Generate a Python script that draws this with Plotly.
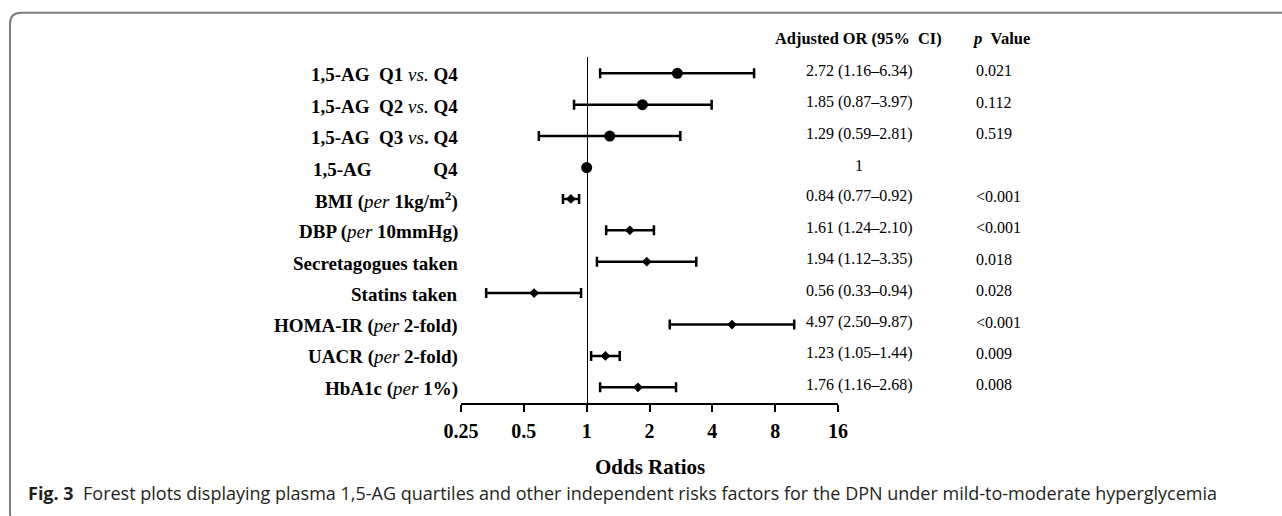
import math
import plotly.graph_objects as go

# ---------------- data ----------------
row_labels = [
    "<b>1,5-AG\u00a0\u00a0Q1 </b><i>vs.</i><b> Q4</b>",
    "<b>1,5-AG\u00a0\u00a0Q2 </b><i>vs.</i><b> Q4</b>",
    "<b>1,5-AG\u00a0\u00a0Q3 </b><i>vs</i><b>. Q4</b>",
    "<b>1,5-AG" + "\u00a0" * 13 + "Q4</b>",
    "<b>BMI (</b><i>per</i><b> 1kg/m<sup>2</sup>)</b>",
    "<b>DBP (</b><i>per</i><b> 10mmHg)</b>",
    "<b>Secretagogues taken</b>",
    "<b>Statins taken</b>",
    "<b>HOMA-IR (</b><i>per</i><b> 2-fold)</b>",
    "<b>UACR (</b><i>per</i><b> 2-fold)</b>",
    "<b>HbA1c (</b><i>per</i><b> 1%)</b>",
]
odds_ratio = [2.72, 1.85, 1.29, 1.00, 0.84, 1.61, 1.94, 0.56, 4.97, 1.23, 1.76]
ci_low = [1.16, 0.87, 0.59, None, 0.77, 1.24, 1.12, 0.33, 2.50, 1.05, 1.16]
ci_high = [6.34, 3.97, 2.81, None, 0.92, 2.10, 3.35, 0.94, 9.87, 1.44, 2.68]
or_text = [
    "2.72 (1.16\u20136.34)", "1.85 (0.87\u20133.97)", "1.29 (0.59\u20132.81)", "1",
    "0.84 (0.77\u20130.92)", "1.61 (1.24\u20132.10)", "1.94 (1.12\u20133.35)",
    "0.56 (0.33\u20130.94)", "4.97 (2.50\u20139.87)", "1.23 (1.05\u20131.44)",
    "1.76 (1.16\u20132.68)",
]
p_values = ["0.021", "0.112", "0.519", "", "<0.001", "<0.001", "0.018",
            "0.028", "<0.001", "0.009", "0.008"]
marker_kind = ["circle"] * 4 + ["diamond"] * 7

tick_vals = [0.25, 0.5, 1, 2, 4, 8, 16]
tick_text = ["0.25", "0.5", "1", "2", "4", "8", "16"]

header_or = "<b>Adjusted OR (95%\u00a0\u00a0CI)</b>"
header_p = "<b><i>p</i>\u00a0\u00a0Value</b>"
x_title = "<b>Odds Ratios</b>"
caption = ("<b>Fig. 3</b>\u00a0\u00a0Forest plots displaying plasma 1,5-AG quartiles and other "
           "independent risks factors for the DPN under mild-to-moderate hyperglycemia")

# ---------------- layout geometry ----------------
W, H = 1282, 516
ML, MR, MT, MB = 461, 444, 57, 113
PW, PH = W - ML - MR, H - MT - MB

def X(px):
    return (px - ML) / PW

def Y(py):
    return 1 - (py - MT) / PH

serif = "Liberation Serif"
xr = [math.log10(tick_vals[0]), math.log10(tick_vals[-1])]
n = len(odds_ratio)
yr = [n - 1 + 0.5, -0.52]

fig = go.Figure()

# rows with confidence intervals
idx = [i for i in range(n) if ci_low[i] is not None]
fig.add_trace(go.Scatter(
    x=[odds_ratio[i] for i in idx],
    y=idx,
    mode="markers",
    marker=dict(symbol=[marker_kind[i] for i in idx],
                size=[11 if marker_kind[i] == "circle" else 7.5 for i in idx],
                color="black", opacity=1, line=dict(width=0)),
    error_x=dict(type="data", symmetric=False,
                 array=[ci_high[i] - odds_ratio[i] for i in idx],
                 arrayminus=[odds_ratio[i] - ci_low[i] for i in idx],
                 thickness=2.5, width=5, color="black"),
    showlegend=False, hoverinfo="skip",
))
# reference row (no interval)
ref = [i for i in range(n) if ci_low[i] is None]
fig.add_trace(go.Scatter(
    x=[odds_ratio[i] for i in ref], y=ref, mode="markers",
    marker=dict(symbol=[marker_kind[i] for i in ref], size=11, color="black",
                opacity=1, line=dict(width=0)),
    showlegend=False, hoverinfo="skip", cliponaxis=False,
))

annotations = []
for i in range(n):
    annotations.append(dict(x=X(460), xref="paper", y=i, yref="y", text=row_labels[i],
                            xanchor="right", yanchor="middle", showarrow=False, yshift=-1.5,
                            font=dict(family=serif, size=19, color="black")))
    annotations.append(dict(x=X(859), xref="paper", y=i, yref="y", text=or_text[i],
                            xanchor="center", yanchor="middle", showarrow=False, yshift=2.5,
                            font=dict(family=serif, size=16, color="black")))
    if p_values[i]:
        annotations.append(dict(x=X(974), xref="paper", y=i, yref="y",
                                text=p_values[i].replace("<", "&lt;"),
                                xanchor="left", yanchor="middle", showarrow=False, yshift=2.5,
                                font=dict(family=serif, size=16, color="black")))

annotations += [
    dict(x=X(858), y=Y(38.5), xref="paper", yref="paper", text=header_or, showarrow=False,
         xanchor="center", yanchor="middle", font=dict(family=serif, size=16.4, color="black")),
    dict(x=X(970), y=Y(38.5), xref="paper", yref="paper", text=header_p, showarrow=False,
         xanchor="left", yanchor="middle", font=dict(family=serif, size=16.5, color="black")),
    dict(x=X(650), y=Y(467), xref="paper", yref="paper", text=x_title, showarrow=False,
         xanchor="center", yanchor="middle", font=dict(family=serif, size=21, color="black")),
    dict(x=X(26), y=Y(493), xref="paper", yref="paper", text=caption, showarrow=False,
         xanchor="left", yanchor="middle", font=dict(family="Open Sans", size=18, color="#231f20")),
]

# rounded frame (partly cut by the image edges)
L, T, R, B, r = 10, 12.7, 1295, 524, 11
frame = (f"M {X(L)},{Y(B - r)} L {X(L)},{Y(T + r)} Q {X(L)},{Y(T)} {X(L + r)},{Y(T)} "
         f"L {X(R - r)},{Y(T)} Q {X(R)},{Y(T)} {X(R)},{Y(T + r)} L {X(R)},{Y(B - r)} "
         f"Q {X(R)},{Y(B)} {X(R - r)},{Y(B)} L {X(L + r)},{Y(B)} Q {X(L)},{Y(B)} {X(L)},{Y(B - r)} Z")

fig.update_layout(
    width=W, height=H,
    margin=dict(l=ML, r=MR, t=MT, b=MB, pad=0),
    paper_bgcolor="white", plot_bgcolor="white",
    xaxis=dict(type="log", range=xr, tickvals=tick_vals, ticktext=tick_text,
               showgrid=False, zeroline=False, showline=True, linecolor="black", linewidth=1.8,
               ticks="outside", ticklen=7, tickwidth=1.8, tickcolor="black",
               tickfont=dict(family=serif, size=20, color="black", weight="bold"),
               ticklabelstandoff=2),
    yaxis=dict(range=yr, showgrid=False, zeroline=False, showticklabels=False, ticks="",
               showline=True, linecolor="black", linewidth=1.2,
               anchor="free",
               position=(math.log10(1) - xr[0]) / (xr[1] - xr[0])),
    annotations=annotations,
    shapes=[dict(type="path", path=frame, xref="paper", yref="paper",
                 line=dict(color="#7f7f7f", width=2), fillcolor="rgba(0,0,0,0)", layer="below")],
)

fig.write_html("out.html", config={"displayModeBar": False},
               post_script="document.body.style.margin='0px';")
